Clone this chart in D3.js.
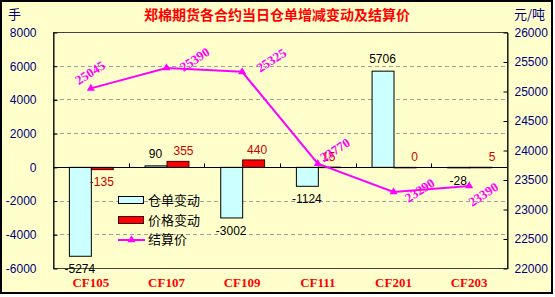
<!DOCTYPE html>
<html><head><meta charset="utf-8">
<script src="https://cdn.jsdelivr.net/npm/d3@7"></script>
<style>
html,body{margin:0;padding:0;background:#fff;}
svg{display:block;}
</style></head>
<body>
<script>
const categories = ["CF105","CF107","CF109","CF111","CF201","CF203"];
const warrantChange = [-5274, 90, -3002, -1124, 5706, -28];
const priceChange = [-135, 355, 440, 15, 0, 5];
const settlePrice = [25045, 25390, 25325, 23770, 23290, 23390];
const leftTicks = [-6000,-4000,-2000,0,2000,4000,6000,8000];
const rightTicks = [22000,22500,23000,23500,24000,24500,25000,25500,26000];
const seriesNames = ["仓单变动","价格变动","结算价"];
const title = "郑棉期货各合约当日仓单增减变动及结算价";

const W = 555, H = 297;
const svg = d3.select("body").append("svg").attr("width", W).attr("height", H);
svg.append("rect").attr("x",1).attr("y",1).attr("width",551).attr("height",292)
  .attr("fill","#FFFFCC").attr("stroke","#000").attr("stroke-width",2);

const L = 53, R = 507, T = 32, B = 268;
const x = d3.scaleBand().domain(categories).range([L, R]).padding(0);
const bw = x.bandwidth();
const x1 = d3.scaleBand().domain(["w","p"]).range([bw*0.21, bw*0.79]);
const yL = d3.scaleLinear().domain([-6000, 8000]).range([B, T]);
const yR = d3.scaleLinear().domain([22000, 26000]).range([B, T]);

// gridlines
svg.append("g").selectAll("line").data(leftTicks.filter(d => d !== 0 && d !== 8000 && d !== -6000))
  .join("line").attr("x1", L).attr("x2", R)
  .attr("y1", d => Math.round(yL(d))+0.5).attr("y2", d => Math.round(yL(d))+0.5)
  .attr("stroke","#a0a0a0").attr("stroke-dasharray","4,3");

// plot border
svg.append("rect").attr("x", L+0.5).attr("y", T+0.5).attr("width", R-L).attr("height", B-T)
  .attr("fill","none").attr("stroke","#404040");

// axes
const fmt = d => String(d);
const axL = svg.append("g").attr("transform", `translate(${L+0.5},0.5)`)
  .call(d3.axisLeft(yL).tickValues(leftTicks).tickFormat(fmt).tickSizeInner(-4).tickSizeOuter(0).tickPadding(17));
const axR = svg.append("g").attr("transform", `translate(${R+0.5},0.5)`)
  .call(d3.axisRight(yR).tickValues(rightTicks).tickFormat(fmt).tickSizeInner(-4).tickSizeOuter(0).tickPadding(7));
[axL, axR].forEach(a => {
  a.selectAll("path").attr("stroke","#000");
  a.selectAll("line").attr("stroke","#000");
  a.selectAll("text").attr("fill","#000080").style("font-family","Liberation Sans, Arial, sans-serif").style("font-size","12px");
});

// bars
const gw = svg.append("g");
gw.selectAll("rect.w").data(categories).join("rect").attr("class","w")
  .attr("x", (c) => x(c) + x1("w")+0.5)
  .attr("width", x1.bandwidth())
  .attr("y", (c,i) => Math.min(yL(warrantChange[i]), yL(0))+0.5)
  .attr("height", (c,i) => Math.max(Math.abs(yL(warrantChange[i]) - yL(0)), 0.5))
  .attr("fill","#CCFFFF").attr("stroke","#000");
gw.selectAll("rect.p").data(categories).join("rect").attr("class","p")
  .attr("x", (c) => x(c) + x1("p")+0.5)
  .attr("width", x1.bandwidth())
  .attr("y", (c,i) => Math.min(yL(priceChange[i]), yL(0))+0.5)
  .attr("height", (c,i) => Math.max(Math.abs(yL(priceChange[i]) - yL(0)), 0.5))
  .attr("fill","#FF0000").attr("stroke","#400000");

// zero line and category ticks
svg.append("line").attr("x1", L).attr("x2", R).attr("y1", Math.round(yL(0))+0.5).attr("y2", Math.round(yL(0))+0.5).attr("stroke","#000");
svg.append("g").selectAll("line").data(categories.slice(1)).join("line")
  .attr("x1", c => Math.round(x(c))+0.5).attr("x2", c => Math.round(x(c))+0.5)
  .attr("y1", Math.round(yL(0))+0.5).attr("y2", Math.round(yL(0))-3.5).attr("stroke","#000");

// bar labels
const lblFont = "Liberation Sans, Arial, sans-serif";
svg.append("g").selectAll("text").data(categories).join("text")
  .attr("x", c => x(c) + x1("w") + x1.bandwidth()/2)
  .attr("y", (c,i) => warrantChange[i] >= 0 ? yL(warrantChange[i]) - 12 : yL(warrantChange[i]) + 13)
  .attr("dy","0.35em").attr("text-anchor","middle")
  .style("font-family", lblFont).style("font-size","12px").attr("fill","#000")
  .text((c,i) => String(warrantChange[i]));
const redDx = [0, 6, 4, 0, 10, 12];
svg.append("g").selectAll("text").data(categories).join("text")
  .attr("x", (c,i) => x(c) + x1("p") + x1.bandwidth()/2 + redDx[i])
  .attr("y", (c,i) => priceChange[i] >= 0 ? yL(priceChange[i]) - 10 : yL(priceChange[i]) + 13)
  .attr("dy","0.35em").attr("text-anchor","middle")
  .style("font-family", lblFont).style("font-size","12px").attr("fill","#CC0000")
  .text((c,i) => String(priceChange[i]));

// line
const cx = c => x(c) + bw/2;
const line = d3.line().x((d,i) => cx(categories[i])).y(d => yR(d));
svg.append("path").datum(settlePrice).attr("d", line).attr("fill","none")
  .attr("stroke","#FF00FF").attr("stroke-width",2);
svg.append("g").selectAll("path").data(settlePrice).join("path")
  .attr("transform", (d,i) => `translate(${cx(categories[i])},${yR(d)})`)
  .attr("d", d3.symbol(d3.symbolTriangle, 28)).attr("fill","#FF00FF");

// line labels
const lblOff = [[-12,-3],[17,4],[18,1],[6,-1],[15,11],[3,21]];
svg.append("g").selectAll("text").data(settlePrice).join("text")
  .attr("transform", (d,i) => `translate(${cx(categories[i]) + lblOff[i][0]},${yR(d) + lblOff[i][1]}) rotate(-33)`)
  .style("font-family","Liberation Serif, Times New Roman, serif").style("font-weight","bold")
  .style("font-size","13px").attr("fill","#FF00FF")
  .text(d => d);

// category labels
svg.append("g").selectAll("text").data(categories).join("text")
  .attr("x", c => cx(c)).attr("y", 282).attr("dy","0.35em").attr("text-anchor","middle")
  .style("font-family","Liberation Serif, Times New Roman, serif").style("font-weight","bold")
  .style("font-size","13px").attr("fill","#FF0000").text(c => c);

// title and units
const cjk = "Noto Sans CJK SC, sans-serif";
svg.append("text").attr("x", 277).attr("y", 15).attr("dy","0.35em").attr("text-anchor","middle")
  .style("font-family", cjk).style("font-weight","bold").style("font-size","14px").attr("fill","#FF0000").text(title);
svg.append("text").attr("x", 8).attr("y", 14).attr("dy","0.35em")
  .style("font-family", cjk).style("font-size","13px").attr("fill","#000080").text("手");
svg.append("text").attr("x", 514).attr("y", 14).attr("dy","0.35em")
  .style("font-family", cjk).style("font-size","13px").attr("fill","#000080").text("元/吨");

// legend
const lg = svg.append("g");
const lx = 118, ly = [200, 220, 239];
lg.append("rect").attr("x", lx+0.5).attr("y", ly[0]-3.5).attr("width", 25).attr("height", 7).attr("fill","#CCFFFF").attr("stroke","#000");
lg.append("rect").attr("x", lx+0.5).attr("y", ly[1]-3.5).attr("width", 25).attr("height", 7).attr("fill","#FF0000").attr("stroke","#400000");
lg.append("line").attr("x1", lx).attr("x2", lx+27).attr("y1", ly[2]+1).attr("y2", ly[2]+1).attr("stroke","#FF00FF").attr("stroke-width",2);
lg.append("path").attr("transform", `translate(${lx+13.5},${ly[2]+1})`).attr("d", d3.symbol(d3.symbolTriangle, 28)).attr("fill","#FF00FF");
lg.selectAll("text").data(seriesNames).join("text")
  .attr("x", lx+30).attr("y", (d,i) => ly[i]).attr("dy","0.35em")
  .style("font-family", cjk).style("font-size","13px").attr("fill","#000").text(d => d);
</script>
</body></html>
